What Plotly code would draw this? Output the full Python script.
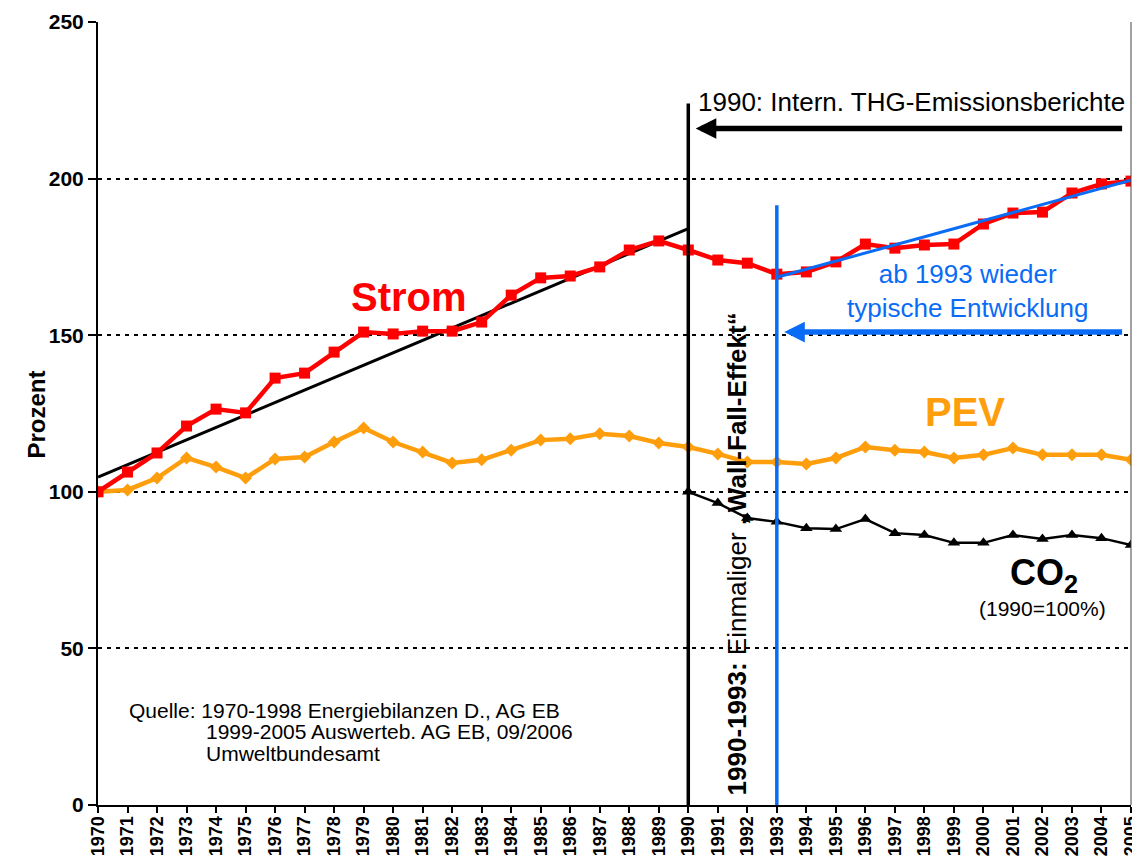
import plotly.graph_objects as go

years = list(range(1970, 2006))
strom = [100, 106.3, 112.4, 121, 126.4, 125.2, 136.3, 137.9, 144.6, 151, 150.4, 151.3,
         151.3, 154.2, 162.8, 168.3, 168.9, 171.8, 177.2, 180.1, 177.2, 174, 173, 169.5,
         170.2, 173.4, 179.1, 177.8, 178.8, 179.1, 185.5, 189, 189.3, 195.4, 198.3, 199.2]
pev = [100, 100.6, 104.4, 110.8, 107.9, 104.4, 110.5, 111.1, 115.9, 120.4, 115.9, 112.7,
       109.2, 110.2, 113.3, 116.5, 116.9, 118.5, 117.8, 115.6, 114.3, 112.1, 109.5, 109.5,
       108.9, 110.8, 114.3, 113.3, 112.7, 110.8, 111.8, 114, 111.8, 111.8, 111.8, 110.2]
co2_years = list(range(1990, 2006))
co2 = [100, 96.4, 91.6, 90.4, 88.4, 88.1, 91.3, 86.8, 86.2, 83.7, 83.7, 86.2, 84.9, 86.2, 85.2, 83]

trend1_x = [1970, 1990]
trend1_y = [104.7, 184]
trend2_x = [1993, 2005]
trend2_y = [168.5, 199.5]

y_ticks = [0, 50, 100, 150, 200, 250]

RED = "#FF0000"
ORANGE = "#FF9E0C"
BLUE = "#0A6CF5"
FONT = "Liberation Sans, Arial, sans-serif"

fig = go.Figure()
fig.add_trace(go.Scatter(x=trend1_x, y=trend1_y, mode="lines",
                         line=dict(color="black", width=3), showlegend=False))
fig.add_trace(go.Scatter(x=years, y=pev, mode="lines+markers",
                         line=dict(color=ORANGE, width=4.5),
                         marker=dict(symbol="diamond", size=10, color=ORANGE), showlegend=False))
fig.add_trace(go.Scatter(x=years, y=strom, mode="lines+markers",
                         line=dict(color=RED, width=4.5),
                         marker=dict(symbol="square", size=11, color=RED), showlegend=False))
fig.add_trace(go.Scatter(x=trend2_x, y=trend2_y, mode="lines",
                         line=dict(color=BLUE, width=3), showlegend=False))
fig.add_trace(go.Scatter(x=co2_years, y=co2, mode="lines+markers",
                         line=dict(color="black", width=2.5),
                         marker=dict(symbol="triangle-up", size=11, color="black"), showlegend=False))

# vertical lines
fig.add_shape(type="line", x0=1990, x1=1990, y0=0, y1=224, line=dict(color="black", width=3.5), layer="above")
fig.add_shape(type="line", x0=1993, x1=1993, y0=0, y1=191.5, line=dict(color=BLUE, width=3.5), layer="above")
# right border
fig.add_shape(type="line", xref="paper", yref="paper", x0=1, x1=1, y0=0, y1=1,
              line=dict(color="#444", width=1))

ann = []
# arrows
ann.append(dict(x=1990.25, y=216, ax=2004.75, ay=216, xref="x", yref="y", axref="x", ayref="y",
                showarrow=True, arrowhead=2, arrowsize=0.75, arrowwidth=5.5, arrowcolor="black", text=""))
ann.append(dict(x=1993.25, y=151, ax=2004.75, ay=151, xref="x", yref="y", axref="x", ayref="y",
                showarrow=True, arrowhead=2, arrowsize=0.75, arrowwidth=5.5, arrowcolor=BLUE, text=""))

ann.append(dict(x=1997.55, y=224.5, text="1990: Intern. THG-Emissionsberichte", showarrow=False,
                font=dict(size=26, color="black", family=FONT)))
ann.append(dict(x=1980.54, y=162.2, text="<b>Strom</b>", showarrow=False,
                font=dict(size=40, color=RED, family=FONT)))
ann.append(dict(x=1999.37, y=125.5, text="<b>PEV</b>", showarrow=False,
                font=dict(size=40, color=ORANGE, family=FONT)))
ann.append(dict(x=2002.06, y=73.4, text="<b>CO<sub>2</sub></b>", showarrow=False,
                font=dict(size=36, color="black", family=FONT)))
ann.append(dict(x=2002.0, y=62.8, text="(1990=100%)", showarrow=False,
                font=dict(size=21, color="black", family=FONT)))
ann.append(dict(x=1999.47, y=164, text="ab 1993 wieder<br>typische Entwicklung", showarrow=False,
                font=dict(size=26, color=BLUE, family=FONT)))
ann.append(dict(x=1991.66, y=80.1, text="<b>1990-1993:</b> Einmaliger <b>„Wall-Fall-Effekt“</b>",
                showarrow=False, textangle=-90, font=dict(size=26, color="black", family=FONT)))
ann.append(dict(x=1970.98, y=30.3, text="Quelle: 1970-1998 Energiebilanzen D., AG EB", showarrow=False,
                xanchor="left", font=dict(size=21, color="black", family=FONT)))
ann.append(dict(x=1973.6, y=23.4, text="1999-2005 Auswerteb. AG EB, 09/2006", showarrow=False,
                xanchor="left", font=dict(size=21, color="black", family=FONT)))
ann.append(dict(x=1973.6, y=16.6, text="Umweltbundesamt", showarrow=False,
                xanchor="left", font=dict(size=21, color="black", family=FONT)))
ann.append(dict(xref="paper", yref="paper", x=-78 / 1033, y=(805 - 415) / 783,
                text="<b>Prozent</b>", showarrow=False, textangle=-90,
                font=dict(size=24, color="black", family=FONT)))
fig.update_layout(annotations=ann)

# the page body adds an 8px margin; size the figure so it fits the window without scrolling
fig.update_layout(
    width=1124, height=852,
    margin=dict(l=90, r=1, t=14, b=55),
    paper_bgcolor="white", plot_bgcolor="white",
    font=dict(family=FONT, color="black"),
    xaxis=dict(range=[1970, 2005], tickmode="array", tickvals=years,
               ticktext=[f"<b>{y}</b>" for y in years], tickangle=-90,
               tickfont=dict(size=18, family=FONT, color="black"),
               ticks="outside", ticklen=6, tickwidth=2, tickcolor="black",
               ticklabelstandoff=-4,
               showline=True, linecolor="black", linewidth=2, showgrid=False, zeroline=False,
               automargin=False, ticklabeloverflow="allow"),
    yaxis=dict(range=[0, 250], tickvals=y_ticks,
               ticktext=[f"<b>{v}</b>" for v in y_ticks],
               tickfont=dict(size=21, family=FONT, color="black"),
               ticks="outside", ticklen=8, tickwidth=2, tickcolor="black",
               showline=True, linecolor="black", linewidth=2,
               showgrid=True, gridcolor="black", gridwidth=1.5, griddash="4px,5px", zeroline=False,
               automargin=False, ticklabeloverflow="allow"),
)

fig.write_html("out.html")
